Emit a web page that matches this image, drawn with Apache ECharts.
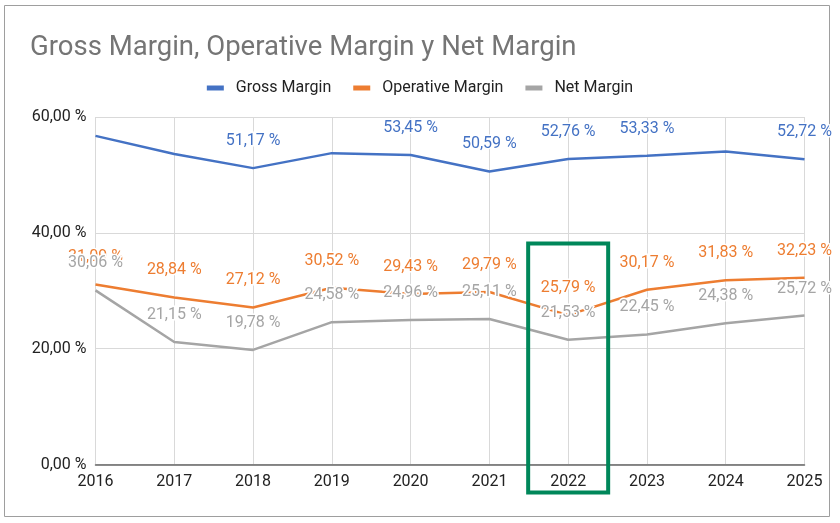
<!DOCTYPE html>
<html>
<head>
<meta charset="utf-8">
<script src="https://cdn.jsdelivr.net/npm/echarts@6/dist/echarts.min.js"></script>
<style>
  html, body { margin: 0; padding: 0; background: #fff; }
  #chart { width: 840px; height: 523px; }
</style>
</head>
<body>
<div id="chart"></div>
<script>
const years = ["2016", "2017", "2018", "2019", "2020", "2021", "2022", "2023", "2024", "2025"];
const grossMargin = [56.74, 53.6, 51.17, 53.76, 53.45, 50.59, 52.76, 53.33, 54.04, 52.72];
const operativeMargin = [31.09, 28.84, 27.12, 30.52, 29.43, 29.79, 25.79, 30.17, 31.83, 32.23];
const netMargin = [30.06, 21.15, 19.78, 24.58, 24.96, 25.11, 21.53, 22.45, 24.38, 25.72];
// years whose gross margin label is visible in the original
const grossLabelYears = ["2018", "2020", "2021", "2022", "2023", "2025"];
const highlightYear = "2022";

const FONT = "Roboto";
const pct = v => v.toFixed(2).replace(".", ",") + " %";

const chart = echarts.init(document.getElementById("chart"));

function lineSeries(name, values, color, labelYears) {
  return {
    name: name,
    type: "line",
    data: values.map((v, i) => ({
      value: v,
      label: { show: !labelYears || labelYears.includes(years[i]) },
    })),
    symbol: "circle",
    symbolSize: 0,
    showSymbol: true,
    lineStyle: { color: color, width: 2.5 },
    itemStyle: { color: color },
    label: {
      show: true,
      position: "top",
      distance: 19,
      color: color,
      fontFamily: FONT,
      fontSize: 16,
      textBorderColor: "#fff",
      textBorderWidth: 3,
      formatter: p => pct(p.value),
    },
    labelLayout: { hideOverlap: false },
  };
}

chart.setOption({
  animation: false,
  textStyle: { fontFamily: FONT },
  title: {
    text: "Gross Margin, Operative Margin y Net Margin",
    left: 25,
    top: 29,
    textStyle: { fontFamily: FONT, fontSize: 27.5, fontWeight: "normal", color: "#757575" },
  },
  legend: {
    top: 75,
    left: "center",
    icon: "rect",
    itemWidth: 17,
    itemHeight: 5,
    itemGap: 22,
    textStyle: { fontFamily: FONT, fontSize: 16, color: "#222", padding: [0, 0, 0, 7] },
    data: ["Gross Margin", "Operative Margin", "Net Margin"],
  },
  grid: { left: 95.5, right: 35.5, top: 117, bottom: 58.5, containLabel: false },
  xAxis: {
    type: "category",
    data: years,
    boundaryGap: false,
    axisLine: { lineStyle: { color: "#666", width: 1.5 } },
    axisTick: { show: false },
    axisLabel: { color: "#222", fontFamily: FONT, fontSize: 16, margin: 9 },
    splitLine: { show: true, lineStyle: { color: "#d9d9d9", width: 1 } },
  },
  yAxis: {
    type: "value",
    min: 0,
    max: 60,
    interval: 20,
    axisLine: { show: false },
    axisTick: { show: false },
    axisLabel: { color: "#222", fontFamily: FONT, fontSize: 16, margin: 9, formatter: v => pct(v) },
    splitLine: { lineStyle: { color: "#d9d9d9", width: 1 } },
  },
  series: [
    lineSeries("Gross Margin", grossMargin, "#4472c4", grossLabelYears),
    lineSeries("Operative Margin", operativeMargin, "#ed7d31"),
    lineSeries("Net Margin", netMargin, "#a5a5a5"),
  ],
});

// outer frame and the highlight box around the chosen year
const cx = chart.convertToPixel({ xAxisIndex: 0 }, highlightYear);
const y0 = chart.convertToPixel({ yAxisIndex: 0 }, 0);
chart.setOption({
  graphic: [
    {
      type: "rect",
      shape: { x: 4.5, y: 5.5, width: 825, height: 511 },
      style: { fill: "none", stroke: "#9e9e9e", lineWidth: 1 },
      silent: true,
      z: -1,
    },
    {
      type: "rect",
      shape: { x: cx - 40, y: y0 - 221, width: 80, height: 249 },
      style: { fill: "none", stroke: "#00875a", lineWidth: 4 },
      silent: true,
      z: 100,
    },
  ],
});
</script>
</body>
</html>
